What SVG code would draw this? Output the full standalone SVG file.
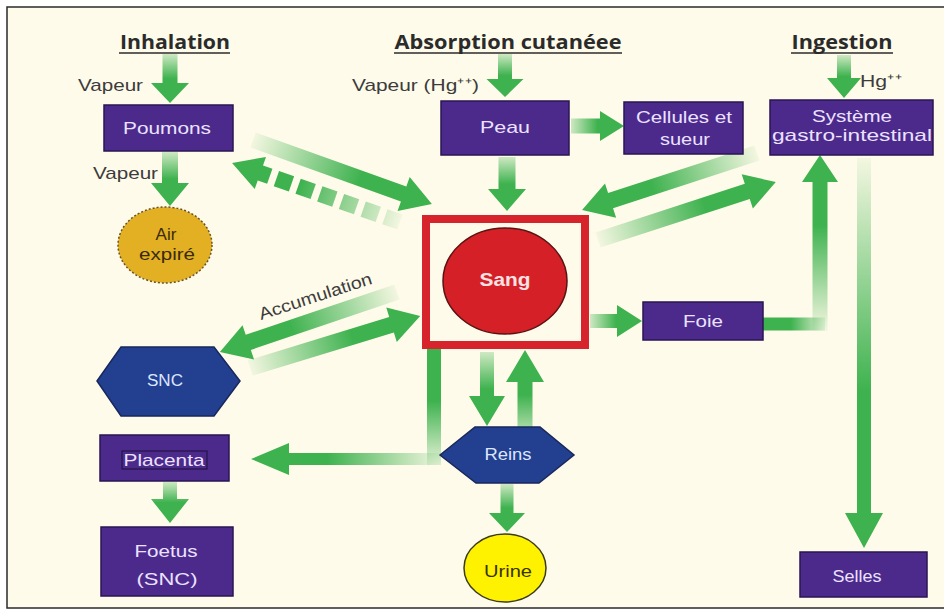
<svg xmlns="http://www.w3.org/2000/svg" width="944" height="609" viewBox="0 0 944 609">
<style>
.t{font-family:"Liberation Sans",Arial,sans-serif;text-anchor:middle}
.ttl{font-family:"Open Sans","Liberation Sans",Arial,sans-serif;font-weight:700;font-size:19px;fill:#2b2b2b}
.ul{stroke:#2b2b2b;stroke-width:1.6}
.side{font-size:17px;fill:#3c3c3c;text-anchor:start}
.box{fill:#4B2A8C;stroke:#2A1652;stroke-width:1.5}
.bl{font-size:17px;fill:#ECE2FF}
.hex{fill:#233F8F;stroke:#17285C;stroke-width:1.5}
.hl{font-size:16px;fill:#DCE6FF}
.af{fill:url(#gf)}
.as{fill:url(#gs)}
.ar{fill:url(#gr)}
</style>
<defs>
<linearGradient id="gf" x1="0" y1="0" x2="1" y2="0">
<stop offset="0" stop-color="#3EB24F" stop-opacity="0.06"/>
<stop offset="0.6" stop-color="#3EB24F" stop-opacity="1"/>
<stop offset="1" stop-color="#3EB24F" stop-opacity="1"/>
</linearGradient>
<linearGradient id="gs" x1="0" y1="0" x2="1" y2="0">
<stop offset="0" stop-color="#3EB24F" stop-opacity="0.25"/>
<stop offset="0.5" stop-color="#3EB24F" stop-opacity="1"/>
<stop offset="1" stop-color="#3EB24F" stop-opacity="1"/>
</linearGradient>
<linearGradient id="gr" x1="0" y1="0" x2="1" y2="0">
<stop offset="0" stop-color="#3EB24F" stop-opacity="1"/>
<stop offset="0.45" stop-color="#3EB24F" stop-opacity="1"/>
<stop offset="1" stop-color="#3EB24F" stop-opacity="0.12"/>
</linearGradient>
</defs>
<rect width="944" height="609" fill="#FFFFFF"/>
<rect x="7" y="7" width="945" height="601" fill="#FFFBEA" stroke="#2a2a2a" stroke-width="1.5"/>

<g id="titles">
<text class="ttl" x="175" y="49" text-anchor="middle" textLength="110" lengthAdjust="spacingAndGlyphs">Inhalation</text>
<line class="ul" x1="119" y1="53" x2="230" y2="53"/>
<text class="ttl" x="508" y="49" text-anchor="middle" textLength="227" lengthAdjust="spacingAndGlyphs">Absorption cutanéee</text>
<line class="ul" x1="394" y1="53" x2="622" y2="53"/>
<text class="ttl" x="842" y="49" text-anchor="middle" textLength="101" lengthAdjust="spacingAndGlyphs">Ingestion</text>
<line class="ul" x1="791" y1="53" x2="893" y2="53"/>
</g>

<g id="labels">
<text class="t side" x="78" y="91" textLength="65" lengthAdjust="spacingAndGlyphs">Vapeur</text>
<text class="t side" x="93" y="179" textLength="65" lengthAdjust="spacingAndGlyphs">Vapeur</text>
<text class="t side" x="352" y="91" textLength="127" lengthAdjust="spacingAndGlyphs">Vapeur (Hg⁺⁺)</text>
<text class="t side" x="860" y="87" textLength="42" lengthAdjust="spacingAndGlyphs">Hg⁺⁺</text>
<text class="t side" x="0" y="0" font-size="15" transform="translate(261,320) rotate(-18)" textLength="118" lengthAdjust="spacingAndGlyphs">Accumulation</text>
</g>

<g id="connectors">
<path class="as" d="M0,-7.5H29V-19L49,0L29,19V7.5H0Z" transform="translate(170,54) rotate(90)"/>
<path class="as" d="M0,-8H31V-19L54,0L31,19V8H0Z" transform="translate(170,152) rotate(90)"/>
<path class="as" d="M0,-7H25V-18.5L43,0L25,18.5V7H0Z" transform="translate(505,54) rotate(90)"/>
<path class="as" d="M0,-8.5H32V-19L54,0L32,19V8.5H0Z" transform="translate(507,157) rotate(90)"/>
<path class="as" d="M0,-7.5H29V-15L53,0L29,15V7.5H0Z" transform="translate(571,126)"/>
<path class="as" d="M0,-7H23V-17L43,0L23,17V7H0Z" transform="translate(844,55) rotate(90)"/>
<path class="af" d="M0,-8H160V-18L190,0L160,18V8H0Z" transform="translate(253,140) rotate(19.7)"/>
<path class="af" d="M138,-8H148V-17L178,0L148,17V8H138Z M115,-8H131V8H115Z M92,-8H108V8H92Z M69,-8H85V8H69Z M46,-8H62V8H46Z M23,-8H39V8H23Z M0,-8H16V8H0Z" transform="translate(400,222) rotate(199.35)"/>
<path class="af" d="M0,-8H154V-18L184,0L154,18V8H0Z" transform="translate(757,153) rotate(161.96)"/>
<path class="af" d="M0,-8H157V-18L187,0L157,18V8H0Z" transform="translate(598,240) rotate(-18.05)"/>
<path class="af" d="M0,-8H157V-18L187,0L157,18V8H0Z" transform="translate(397,292) rotate(161.3)"/>
<path class="af" d="M0,-8H148V-18L178,0L148,18V8H0Z" transform="translate(250,368) rotate(-17)"/>
<path class="as" d="M0,-7H27V-16L52,0L27,16V7H0Z" transform="translate(590,321)"/>
<path class="ar" d="M0,-6.5H62V6.5H0Z" transform="translate(763,324)"/>
<path class="af" d="M0,-7.5H149V-18L176,0L149,18V7.5H0Z" transform="translate(820,331) rotate(-90)"/>
<path class="af" d="M0,-7H355V-19L390,0L355,19V7H0Z" transform="translate(864,158) rotate(90)"/>
<path class="as" d="M0,-7H44V-18L74,0L44,18V7H0Z" transform="translate(487,352) rotate(90)"/>
<path class="as" d="M0,-7.5H58V-19L90,0L58,19V7.5H0Z" transform="translate(525,440) rotate(-90)"/>
<path class="ar" d="M0,-7H116V7H0Z" transform="translate(434,349) rotate(90)"/>
<path class="af" d="M0,-6H152V-16L190,0L152,16V6H0Z" transform="translate(441,459) rotate(180)"/>
<path class="as" d="M0,-6.5H29V-18L48,0L29,18V6.5H0Z" transform="translate(507,484) rotate(90)"/>
<path class="as" d="M0,-7H17V-19L41,0L17,19V7H0Z" transform="translate(170,482) rotate(90)"/>
</g>

<g id="poumons">
<rect class="box" x="104" y="105" width="129" height="46"/>
<text class="t bl" x="167" y="134" font-size="18" textLength="88" lengthAdjust="spacingAndGlyphs">Poumons</text>
</g>
<g id="air-expire">
<ellipse cx="165" cy="245" rx="47" ry="38" fill="#E2B022" stroke="#6A5322" stroke-width="1.5" stroke-dasharray="2 2"/>
<text class="t" x="166" y="240" font-size="17" fill="#3A2A0C">Air</text>
<text class="t" x="167" y="260" font-size="17" fill="#3A2A0C" textLength="56" lengthAdjust="spacingAndGlyphs">expiré</text>
</g>
<g id="peau">
<rect class="box" x="441" y="101" width="128" height="54"/>
<text class="t bl" x="505" y="133" font-size="18" textLength="50" lengthAdjust="spacingAndGlyphs">Peau</text>
</g>
<g id="cellules">
<rect class="box" x="624" y="102" width="119" height="52"/>
<text class="t bl" x="684" y="123" textLength="96" lengthAdjust="spacingAndGlyphs">Cellules et</text>
<text class="t bl" x="685" y="145" textLength="50" lengthAdjust="spacingAndGlyphs">sueur</text>
</g>
<g id="systeme">
<rect class="box" x="770" y="100" width="163" height="55"/>
<text class="t bl" x="852" y="122" textLength="80" lengthAdjust="spacingAndGlyphs">Système</text>
<text class="t bl" x="852" y="141" textLength="160" lengthAdjust="spacingAndGlyphs">gastro-intestinal</text>
</g>
<g id="sang">
<rect x="426" y="219" width="159" height="126" fill="none" stroke="#D7232B" stroke-width="8"/>
<ellipse cx="505" cy="281" rx="62" ry="53" fill="#D52027" stroke="#5A1212" stroke-width="1.5"/>
<text class="t" x="505" y="286" font-size="18" font-weight="700" fill="#FCE2E2" textLength="51" lengthAdjust="spacingAndGlyphs">Sang</text>
</g>
<g id="foie">
<rect class="box" x="643" y="302" width="120" height="38"/>
<text class="t bl" x="703" y="327" textLength="40" lengthAdjust="spacingAndGlyphs">Foie</text>
</g>
<g id="snc">
<polygon class="hex" points="97,381 121,347 214,347 240,381 214,416 121,416"/>
<text class="t hl" x="165" y="386" textLength="36" lengthAdjust="spacingAndGlyphs">SNC</text>
</g>
<g id="placenta">
<rect class="box" x="100" y="435" width="129" height="46"/>
<rect x="122" y="451" width="85" height="18" fill="none" stroke="#1E0F3A" stroke-width="1"/>
<text class="t bl" x="164" y="466" font-size="15" textLength="81" lengthAdjust="spacingAndGlyphs">Placenta</text>
</g>
<g id="foetus">
<rect class="box" x="101" y="527" width="132" height="69"/>
<text class="t bl" x="166" y="557" font-size="18" textLength="63" lengthAdjust="spacingAndGlyphs">Foetus</text>
<text class="t bl" x="167" y="585" font-size="18" textLength="61" lengthAdjust="spacingAndGlyphs">(SNC)</text>
</g>
<g id="reins">
<polygon class="hex" points="440,455 475,427 540,427 574,455 539,483 476,483"/>
<text class="t hl" x="508" y="460" textLength="47" lengthAdjust="spacingAndGlyphs">Reins</text>
</g>
<g id="urine">
<ellipse cx="505" cy="568" rx="41" ry="34" fill="#FFF200" stroke="#3A3A1A" stroke-width="1.5"/>
<text class="t" x="508" y="577" font-size="17" fill="#3A3300" textLength="48" lengthAdjust="spacingAndGlyphs">Urine</text>
</g>
<g id="selles">
<rect class="box" x="800" y="552" width="127" height="45"/>
<text class="t bl" x="857" y="582" font-size="16" textLength="49" lengthAdjust="spacingAndGlyphs">Selles</text>
</g>
</svg>
